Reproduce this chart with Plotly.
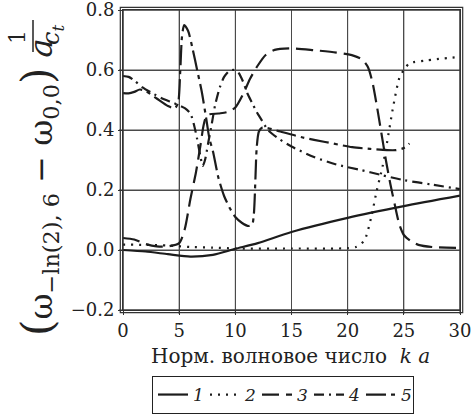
import plotly.graph_objects as go

# Normalised wavenumber k*a and the five frequency-difference curves
k1 = [0, 2, 4, 6, 8, 10, 12, 15, 20, 25, 30]
w1 = [0.0, -0.005, -0.014, -0.022, -0.016, 0.004, 0.023, 0.060, 0.107, 0.146, 0.181]

k2 = [0, 2, 4, 6, 8, 10, 15, 20, 20.8, 21.5, 22.1, 22.6, 23.1, 23.5, 24.0, 24.6, 25.0, 25.5, 27, 30]
w2 = [0.018, 0.017, 0.015, 0.010, 0.008, 0.005, 0.005, 0.006, 0.011, 0.033, 0.11, 0.20, 0.277, 0.357,
      0.467, 0.573, 0.600, 0.622, 0.632, 0.644]

k3 = [0, 1, 2, 3, 4, 5.0, 5.5, 6.0, 6.5, 6.9, 7.2, 7.5, 8.5, 9.3, 10.0, 10.7, 11.3, 12.0, 12.7, 13.5,
      15, 17, 19, 20.5, 21.3, 21.8, 22.2, 22.6, 23.0, 23.4, 23.8, 24.2, 24.6, 25.0, 25.6, 26.3, 27.5, 30]
w3 = [0.040, 0.035, 0.020, 0.012, 0.012, 0.023, 0.07, 0.17, 0.26, 0.35, 0.42, 0.45, 0.455, 0.46, 0.475,
      0.52, 0.57, 0.615, 0.650, 0.667, 0.672, 0.666, 0.658, 0.648, 0.635, 0.610, 0.56, 0.48, 0.39, 0.30,
      0.22, 0.15, 0.085, 0.05, 0.03, 0.017, 0.010, 0.007]

k4 = [0, 0.5, 1.0, 1.7, 2.5, 3.5, 4.5, 5.5, 6.0, 6.3, 6.6, 6.9, 7.1, 7.3, 7.6, 7.9, 8.2, 8.6, 9.0, 9.5,
      9.9, 10.3, 10.7, 11.1, 11.5, 11.9, 12.4, 12.9, 13.9, 15, 17, 19, 21, 23, 25, 27.5, 30]
w4 = [0.580, 0.577, 0.565, 0.543, 0.525, 0.505, 0.490, 0.473, 0.455, 0.42, 0.37, 0.31, 0.28, 0.30, 0.36,
      0.42, 0.483, 0.54, 0.577, 0.598, 0.600, 0.590, 0.560, 0.520, 0.490, 0.460, 0.430, 0.400, 0.370,
      0.345, 0.310, 0.285, 0.268, 0.250, 0.233, 0.218, 0.203]

k5 = [0, 0.5, 1.0, 1.5, 2.0, 3.0, 4.0, 4.6, 4.9, 5.1, 5.25, 5.45, 5.8, 6.2, 6.6, 7.0, 7.4, 7.7, 8.0, 8.5,
      9.0, 9.5, 10.0, 10.6, 11.2, 11.5, 11.65, 11.8, 11.9, 12.1, 12.4, 14, 16, 18, 20.4, 22, 23.5, 24.3,
      25.0, 25.5]
w5 = [0.523, 0.522, 0.527, 0.535, 0.530, 0.505, 0.480, 0.472, 0.490, 0.60, 0.71, 0.750, 0.730, 0.670,
      0.600, 0.530, 0.440, 0.370, 0.330, 0.240, 0.180, 0.140, 0.110, 0.090, 0.080, 0.085, 0.12, 0.25,
      0.34, 0.395, 0.408, 0.395, 0.375, 0.360, 0.343, 0.337, 0.333, 0.333, 0.340, 0.355]

names = ["<i>1</i>", "<i>2</i>", "<i>3</i>", "<i>4</i>", "<i>5</i>"]
dashes = ["solid", "2px,6px", "17px,7px", "10px,5px,2px,5px", "20px,5px,4px,5px"]

x_ticks = [0, 5, 10, 15, 20, 25, 30]
y_ticks = [-0.2, 0, 0.2, 0.4, 0.6, 0.8]
y_tick_text = ["\u22120.2", "0.0", "0.2", "0.4", "0.6", "0.8"]

INK = "#1c1c1c"
GRID = "#4a4a4a"
FRAME = "#333333"
FONT = "DejaVu Serif"

fig = go.Figure()
for k, w, nm, ds in zip([k1, k2, k3, k4, k5], [w1, w2, w3, w4, w5], names, dashes):
    fig.add_trace(go.Scatter(
        x=k, y=w, mode="lines", name=nm,
        line=dict(color=INK, width=2.2, dash=ds, shape="spline", smoothing=0.7),
    ))

# plot area in pixels: left 123, right 460, top 10, bottom 310
L, R, T, B = 123, 460, 10, 310
W, H = R - L, B - T


def px(x):
    return (x - L) / W


def py(y):
    return (B - y) / H


axis_common = dict(
    showgrid=True, gridcolor=GRID, gridwidth=1,
    showline=True, linecolor=FRAME, linewidth=1, mirror=True,
    ticks="outside", ticklen=4, tickcolor=FRAME, tickwidth=1,
    tickfont=dict(family=FONT, size=18, color="#222222"),
    ticklabeloverflow="allow",
    zeroline=False, automargin=False,
)
fig.update_xaxes(range=[0, 30], tickvals=x_ticks, **axis_common)
fig.update_yaxes(range=[-0.2, 0.8], tickvals=y_ticks, ticktext=y_tick_text, **axis_common)

# grid and tick marks as explicit lines so they always render
for xv in x_ticks:
    fig.add_shape(type="line", xref="x", yref="paper", x0=xv, x1=xv, y0=0, y1=1,
                  line=dict(color=GRID, width=1), layer="below")
    fig.add_shape(type="line", xref="x", yref="paper", x0=xv, x1=xv, y0=0, y1=-4 / H,
                  line=dict(color=FRAME, width=1))
for yv in y_ticks:
    fig.add_shape(type="line", xref="paper", yref="y", x0=0, x1=1, y0=yv, y1=yv,
                  line=dict(color=GRID, width=1), layer="below")
    fig.add_shape(type="line", xref="paper", yref="y", x0=0, x1=-4 / W, y0=yv, y1=yv,
                  line=dict(color=FRAME, width=1))

# double frame: inner box on the axes, outer box just outside
fig.add_shape(type="rect", xref="paper", yref="paper", x0=0, x1=1, y0=0, y1=1,
              line=dict(color=FRAME, width=1.1))
fig.add_shape(type="rect", xref="paper", yref="paper",
              x0=px(L - 2.7), x1=px(R + 2.7), y0=py(B + 2.7), y1=py(T - 2.7),
              line=dict(color=FRAME, width=1.2))

# x-axis caption
fig.add_annotation(xref="paper", yref="paper", x=px(290), y=py(356),
                   xanchor="center", yanchor="middle", showarrow=False,
                   text="Норм. волновое число\u00a0\u00a0<i>k a</i>",
                   font=dict(family=FONT, size=20, color="#222222"))

# y-axis caption, rotated, with the 1/c_t fraction built from pieces
fig.add_annotation(xref="paper", yref="paper", x=px(38), y=py(187),
                   xanchor="center", yanchor="middle", showarrow=False, textangle=-90,
                   text="<span style='font-size:42px'>(</span>\u03c9<sub>\u2212ln(2), 6</sub> \u2212 "
                        "\u03c9<sub>0,0</sub><span style='font-size:42px'>)</span> <i>a</i>",
                   font=dict(family=FONT, size=32, color="#222222"))
fig.add_annotation(xref="paper", yref="paper", x=px(18), y=py(37),
                   xanchor="center", yanchor="middle", showarrow=False, textangle=-90,
                   text="1", font=dict(family=FONT, size=22, color="#222222"))
fig.add_annotation(xref="paper", yref="paper", x=px(52), y=py(35),
                   xanchor="center", yanchor="middle", showarrow=False, textangle=-90,
                   text="<i>c<sub>t</sub></i>", font=dict(family=FONT, size=24, color="#222222"))
fig.add_shape(type="line", xref="paper", yref="paper",
              x0=px(33), x1=px(33), y0=py(20), y1=py(52),
              line=dict(color="#222222", width=1.5))

fig.update_layout(
    template="none",
    width=473, height=415,
    margin=dict(l=L, r=473 - R, t=T, b=415 - B, autoexpand=False),
    paper_bgcolor="white", plot_bgcolor="rgba(0,0,0,0)",
    showlegend=True,
    legend=dict(orientation="h", x=px(283), y=py(395), xanchor="center", yanchor="middle",
                bordercolor="#222222", borderwidth=1, bgcolor="white",
                entrywidth=7, itemwidth=30,
                font=dict(family=FONT, size=17, color="#222222")),
)

fig.write_html("out.html")
